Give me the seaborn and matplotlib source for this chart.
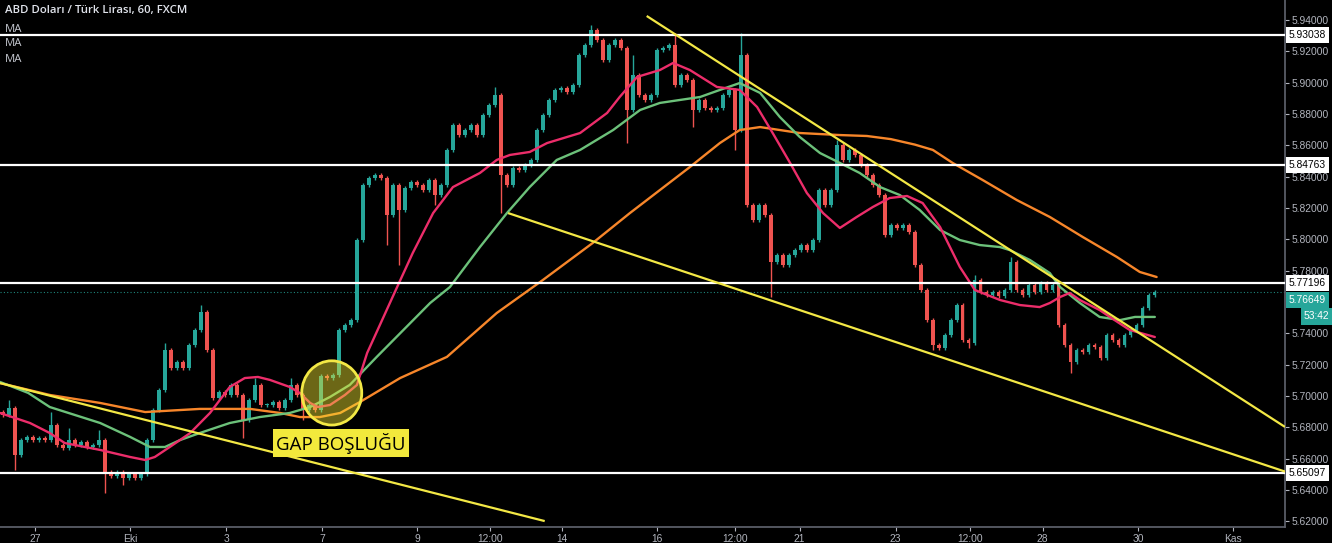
import numpy as np
import pandas as pd
import matplotlib
matplotlib.use("Agg")
import matplotlib.pyplot as plt
from matplotlib.patches import Ellipse
import seaborn as sns

# ---------------- data ----------------
title = "ABD Doları / Türk Lirası, 60, FXCM"
indicator_names = ["MA", "MA", "MA"]

first_open = 5.6900
closes = [
    5.6879, 5.6924, 5.6624, 5.6719, 5.6739, 5.6719, 5.6732, 5.6719, 5.6815, 5.6688,
    5.6668, 5.6719, 5.6688, 5.6707, 5.6675, 5.6688, 5.6719, 5.6515, 5.6490, 5.6515,
    5.6477, 5.6502, 5.6477, 5.6502, 5.6719, 5.6911, 5.7039, 5.7294, 5.7179, 5.7217,
    5.7179, 5.7326, 5.7422, 5.7537, 5.7294, 5.6988, 5.7026, 5.7007, 5.7071, 5.7007,
    5.6847, 5.6975, 5.7071, 5.6943, 5.6943, 5.6962, 5.6924, 5.6975, 5.7071, 5.7007,
    5.6911, 5.6943, 5.6911, 5.7128, 5.7115, 5.7134, 5.7422, 5.7454, 5.7485, 5.7996,
    5.8347, 5.8392, 5.8411, 5.8392, 5.8156, 5.8347, 5.8188, 5.8328, 5.8366, 5.8347,
    5.8315, 5.8379, 5.8283, 5.8347, 5.8571, 5.8730, 5.8666, 5.8698, 5.8730, 5.8666,
    5.8794, 5.8858, 5.8922, 5.8411, 5.8347, 5.8456, 5.8443, 5.8475, 5.8507, 5.8698,
    5.8794, 5.8890, 5.8954, 5.8966, 5.8941, 5.8985, 5.9177, 5.9241, 5.9337, 5.9273,
    5.9145, 5.9241, 5.9273, 5.9222, 5.8826, 5.9049, 5.8922, 5.8890, 5.8922, 5.9209,
    5.9222, 5.9241, 5.8985, 5.9049, 5.9017, 5.8826, 5.8890, 5.8839, 5.8826, 5.8839,
    5.8922, 5.8954, 5.8698, 5.9177, 5.8219, 5.8124, 5.8219, 5.8156, 5.7856, 5.7900,
    5.7837, 5.7900, 5.7932, 5.7964, 5.7932, 5.7996, 5.8315, 5.8219, 5.8315, 5.8602,
    5.8507, 5.8571, 5.8539, 5.8475, 5.8411, 5.8347, 5.8283, 5.8028, 5.8092, 5.8073,
    5.8092, 5.8047, 5.7837, 5.7677, 5.7485, 5.7326, 5.7307, 5.7390, 5.7485, 5.7581,
    5.7358, 5.7339, 5.7741, 5.7664, 5.7645, 5.7664, 5.7639, 5.7677, 5.7856, 5.7677,
    5.7645, 5.7709, 5.7664, 5.7722, 5.7677, 5.7709, 5.7454, 5.7326, 5.7217, 5.7294,
    5.7281, 5.7326, 5.7313, 5.7243, 5.7390, 5.7358, 5.7326, 5.7390, 5.7422, 5.7454,
    5.7562, 5.7645, 5.76649,
]
wick_default = 0.0014
high_spikes = {1: 5.6975, 8: 5.6898, 11: 5.6796, 16: 5.6783, 27: 5.7339, 33: 5.7581,
               42: 5.7115, 48: 5.7115, 82: 5.8973, 98: 5.9368, 105: 5.9177, 112: 5.9317,
               123: 5.9317, 139: 5.8634, 162: 5.7773, 168: 5.7888}
low_spikes = {2: 5.6528, 17: 5.6381, 20: 5.6432, 40: 5.6732, 50: 5.6847, 64: 5.7964,
              66: 5.7837, 72: 5.8219, 83: 5.8168, 104: 5.8615, 115: 5.8717, 122: 5.8571,
              128: 5.7632, 155: 5.7294, 161: 5.7307, 178: 5.7147}

# moving averages (bar index, price)
ma_fast_x = [-0.5, 4.5, 7.8, 10.3, 16.2, 21.2, 23.7, 25.3, 27.8, 31.2, 34.5, 37.8, 40.3, 42.5,
             44.5, 47.8, 49.5, 51.2, 52.5, 54.5, 57, 59, 60.7, 65.7, 68.3, 71.7, 75, 79.5,
             82.3, 84.5, 87.8, 90.7, 96.2, 100.7, 102.8, 105.7, 109.5, 111.7, 114.5, 119,
             122.8, 125.7, 128.3, 131.2, 134, 136.7, 139.5, 142.3, 145, 147.8, 150.7, 153.3,
             156.2, 159.5, 162, 166.2, 169.5, 172.8, 174.5, 176.2, 177.8, 179.5, 182.8,
             185.3, 187.8, 192]
ma_fast_y = [5.6892, 5.6828, 5.6764, 5.6700, 5.6656, 5.6611, 5.6592, 5.6611, 5.6675, 5.6764,
             5.6892, 5.7058, 5.7115, 5.7122, 5.7103, 5.7058, 5.7019, 5.6956, 5.6930, 5.6943,
             5.7007, 5.7071, 5.7275, 5.7696, 5.7913, 5.8168, 5.8334, 5.8424, 5.8507, 5.8539,
             5.8558, 5.8615, 5.8679, 5.8807, 5.8909, 5.9037, 5.9081, 5.9126, 5.9081, 5.8973,
             5.8954, 5.8845, 5.8679, 5.8488, 5.8296, 5.8168, 5.8073, 5.8143, 5.8207, 5.8264,
             5.8277, 5.8232, 5.8079, 5.7824, 5.7677, 5.7613, 5.7581, 5.7568, 5.7594, 5.7632,
             5.7658, 5.7613, 5.7549, 5.7485, 5.7422, 5.7377]

ma_mid_x = [-0.5, 4.2, 7.8, 16.2, 21.2, 24.5, 27, 29.5, 32.8, 37.8, 42.8, 47.8, 51.2, 54.5,
            57.8, 62.3, 71.2, 74.5, 79.5, 84, 87.8, 92.3, 96.2, 101.7, 106.2, 109.5, 116.2,
            119.5, 122.8, 126.2, 129.5, 132.8, 136.2, 139.5, 142.8, 146.2, 149.5, 152.8,
            156.2, 159.5, 162.8, 166.2, 167.8, 171.2, 174.5, 176.2, 179.5, 182.8, 186.2,
            188.7, 192]
ma_mid_y = [5.7090, 5.7020, 5.6930, 5.6828, 5.6739, 5.6675, 5.6675, 5.6719, 5.6764, 5.6828,
            5.6866, 5.6892, 5.6930, 5.6994, 5.7071, 5.7250, 5.7594, 5.7696, 5.7951, 5.8168,
            5.8334, 5.8507, 5.8571, 5.8698, 5.8826, 5.8871, 5.8909, 5.8954, 5.8998, 5.8935,
            5.8781, 5.8654, 5.8551, 5.8488, 5.8424, 5.8334, 5.8283, 5.8188, 5.8060, 5.7996,
            5.7964, 5.7951, 5.7932, 5.7868, 5.7785, 5.7696, 5.7594, 5.7505, 5.7485, 5.7505,
            5.7505]

ma_slow_x = [-0.5, 7.8, 16.2, 23.7, 32.8, 41.2, 46.2, 49.5, 52.8, 56.2, 59.5, 66.2, 74,
             82.3, 90, 98.3, 104.5, 109.5, 114.5, 119.5, 122.8, 126.2, 129.5, 132.8, 139.5,
             144.0, 148.0, 152.0, 155, 158.3, 163.3, 169, 174.5, 180, 185.7, 189.5, 192.3]
ma_slow_y = [5.7083, 5.7007, 5.6956, 5.6898, 5.6918, 5.6918, 5.6892, 5.6866, 5.6866, 5.6892,
             5.6962, 5.7115, 5.7250, 5.7530, 5.7741, 5.7977, 5.8168, 5.8315, 5.8462, 5.8615,
             5.8698, 5.8717, 5.8698, 5.8679, 5.8666, 5.8660, 5.8640, 5.8605, 5.8571, 5.8488,
             5.8379, 5.8251, 5.8143, 5.8015, 5.7887, 5.7792, 5.7760]

levels = [5.93038, 5.84763, 5.77196, 5.65097]
last_price = 5.76649
last_price_label_y = 5.7613
countdown = "53:42"
countdown_y = 5.7508

trend_x = [(-0.5, 90.3), (84.2, 213.7), (107.3, 213.7)]
trend_y = [(5.7083, 5.6202), (5.8168, 5.6518), (5.9426, 5.6803)]

gap_center = (54.8, 5.7020)
gap_label = "GAP BOŞLUĞU"
gap_label_pos = (56.3, 5.6700)

x_tick_pos = [5.3, 21.2, 37.2, 53.2, 69, 81.2, 93.2, 109, 122, 132.8, 148.8, 161.2, 173.3, 189.2, 205]
x_tick_labels = ["27", "Eki", "3", "7", "9", "12:00", "14", "16", "12:00", "21", "23", "12:00", "28", "30", "Kas"]
y_ticks = [5.62, 5.64, 5.66, 5.68, 5.70, 5.72, 5.74, 5.78, 5.80, 5.82, 5.84, 5.86, 5.88, 5.90, 5.92, 5.94]

# ---------------- style ----------------
UP = "#26a69a"
DOWN = "#ef5350"
PINK = "#ec2d6a"
GREEN = "#6cc17a"
ORANGE = "#f7862a"
YELLOW = "#f3e845"
AXC = "#b2b5be"

sns.set_theme(style="dark", rc={
    "axes.facecolor": "black", "figure.facecolor": "black",
    "axes.edgecolor": "#5d606b", "axes.grid": False,
    "text.color": "#d1d4dc", "xtick.color": AXC, "ytick.color": AXC,
})
plt.rcParams["font.family"] = ["Liberation Sans", "DejaVu Sans"]

fig = plt.figure(figsize=(13.32, 5.43), dpi=100)
H = 543.0
plot_bottom_px = 527
ax = fig.add_axes([0, (H - plot_bottom_px) / H, 1285 / 1332, plot_bottom_px / H])

df = pd.DataFrame({"close": closes})
df["open"] = [first_open] + closes[:-1]
df["x"] = np.arange(len(df))
hi = np.maximum(df["open"], df["close"]) + wick_default
lo = np.minimum(df["open"], df["close"]) - wick_default
for k, v in high_spikes.items():
    hi[k] = max(v, hi[k])
for k, v in low_spikes.items():
    lo[k] = min(v, lo[k])
df["high"] = hi
df["low"] = lo
colors = np.where(df["close"] >= df["open"], UP, DOWN)

ax.vlines(df["x"], df["low"], df["high"], colors=colors, linewidth=1.0, zorder=2)
body = (df["close"] - df["open"]).to_numpy()
body = np.where(np.abs(body) < 0.0005, 0.0005 * np.sign(body + 1e-12), body)
ax.bar(df["x"], body, bottom=df["open"], width=0.55, color=colors, linewidth=0, zorder=2)

# moving averages
sns.lineplot(x=ma_slow_x, y=ma_slow_y, ax=ax, color=ORANGE, linewidth=1.7, estimator=None, sort=False, zorder=3)
sns.lineplot(x=ma_mid_x, y=ma_mid_y, ax=ax, color=GREEN, linewidth=1.7, estimator=None, sort=False, zorder=3)
sns.lineplot(x=ma_fast_x, y=ma_fast_y, ax=ax, color=PINK, linewidth=1.7, estimator=None, sort=False, zorder=3)

# horizontal levels
for lv in levels:
    ax.axhline(lv, color="white", linewidth=1.6, zorder=4)
ax.axhline(last_price, color=UP, linewidth=0.8, linestyle=(0, (1, 2)), alpha=0.8, zorder=1)

# trend lines
for (x0, x1), (y0, y1) in zip(trend_x, trend_y):
    ax.plot([x0, x1], [y0, y1], color=YELLOW, linewidth=1.6, zorder=5, solid_capstyle="butt")

# gap circle and label
ax.add_patch(Ellipse(gap_center, width=10, height=0.041, facecolor=(0.95, 0.9, 0.2, 0.45),
                     edgecolor=YELLOW, linewidth=2, zorder=6))
ax.text(gap_label_pos[0], gap_label_pos[1], gap_label, ha="center", va="center", fontsize=13.5,
        color="black", family=["Open Sans", "DejaVu Sans"], zorder=7,
        bbox=dict(boxstyle="square,pad=0.18", facecolor="#f2e93c", edgecolor="none"))

ax.set_xlim(-0.5, 213.7)
ax.set_ylim(5.9528 - plot_bottom_px / 1566.7, 5.9528)

ax.set_xticks(x_tick_pos)
ax.set_xticklabels(x_tick_labels)
ax.set_yticks(y_ticks)
ax.set_yticklabels([f"{v:.5f}" for v in y_ticks])
ax.yaxis.tick_right()
ax.tick_params(axis="y", which="both", right=True, left=False, labelright=True, labelleft=False,
               direction="out", length=3, width=0.8, pad=2, labelsize=7.4, colors=AXC)
ax.tick_params(axis="x", direction="out", length=3, width=0.8, pad=2, labelsize=7.4, colors=AXC, bottom=True)
for s in ["top", "left"]:
    ax.spines[s].set_visible(False)
ax.spines["right"].set_color("#5d606b")
ax.spines["bottom"].set_color("#5d606b")
ax.set_xlabel("")
ax.set_ylabel("")

# price labels on the right scale
ytr = ax.get_yaxis_transform()
for lv in levels:
    ax.text(1.003, lv, f"{lv:.5f}", transform=ytr, ha="left", va="center", fontsize=7.4,
            color="black", clip_on=False, zorder=10,
            bbox=dict(boxstyle="square,pad=0.3", facecolor="white", edgecolor="none"))
ax.text(1.003, last_price_label_y, f"{last_price:.5f}", transform=ytr, ha="left", va="center",
        fontsize=7.4, color="white", clip_on=False, zorder=10,
        bbox=dict(boxstyle="square,pad=0.3", facecolor=UP, edgecolor="none"))
ax.text(1.0345, countdown_y, countdown, transform=ytr, ha="right", va="center", fontsize=7.4,
        color="white", clip_on=False, zorder=10,
        bbox=dict(boxstyle="square,pad=0.3", facecolor=UP, edgecolor="none"))

# header text
fig.text(5 / 1332, 1 - 11 / H, title, ha="left", va="center", fontsize=8.2, color="#e0e3eb",
         fontweight="semibold", family=["Open Sans", "DejaVu Sans"])
for k, name in enumerate(indicator_names):
    fig.text(5 / 1332, 1 - (29 + 15 * k) / H, name, ha="left", va="center", fontsize=8.2,
             color="#c5c8d0", family=["Open Sans", "DejaVu Sans"])

fig.savefig("out.png", dpi=100, facecolor="black")
